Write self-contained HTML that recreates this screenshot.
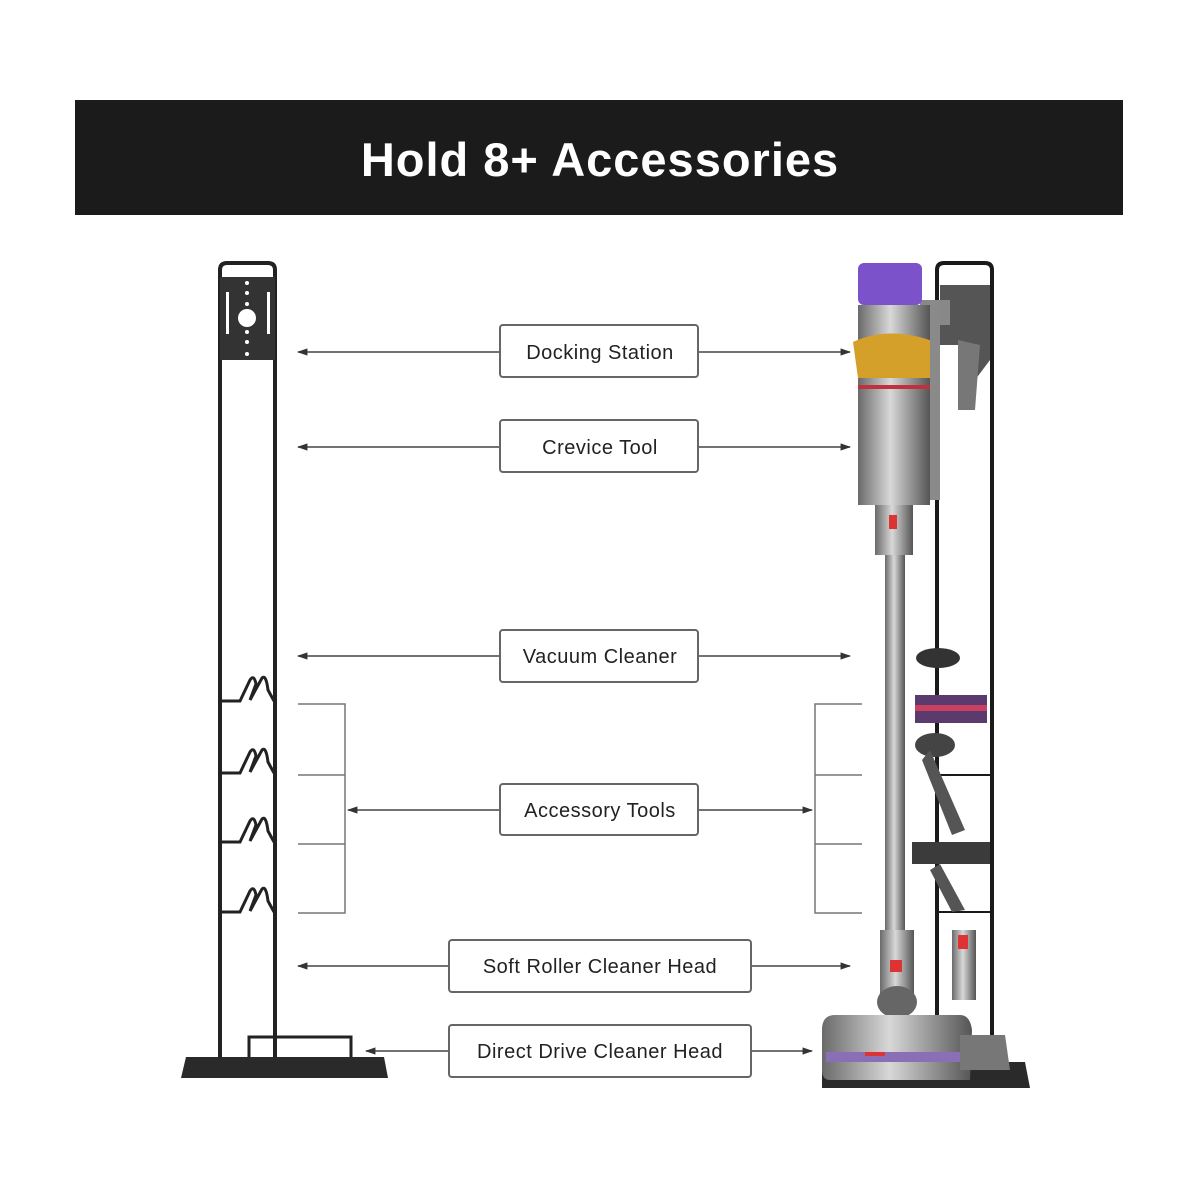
<!DOCTYPE html>
<html><head><meta charset="utf-8"><style>
html,body{margin:0;padding:0;background:#fff;width:1200px;height:1200px;overflow:hidden}
svg{display:block}
text{font-family:"Liberation Sans",sans-serif}
</style></head><body>
<svg width="1200" height="1200" viewBox="0 0 1200 1200" xmlns="http://www.w3.org/2000/svg">
<defs>
<marker id="ar" viewBox="0 0 10 10" refX="9" refY="5" markerWidth="7" markerHeight="7" orient="auto-start-reverse"><path d="M0,1.5 L10,5 L0,8.5z" fill="#333"/></marker>
<linearGradient id="met" x1="0" x2="1"><stop offset="0" stop-color="#6a6a6a"/><stop offset="0.45" stop-color="#d8d8d8"/><stop offset="1" stop-color="#555"/></linearGradient>
</defs>
<rect x="75" y="100" width="1048" height="115" fill="#1b1b1b"/>
<text x="600" y="176" font-size="47" font-weight="bold" fill="#fff" text-anchor="middle" letter-spacing="1">Hold 8+ Accessories</text>

<!-- left stand -->
<g stroke="#222" fill="none">
<path d="M220,1058 V270 Q220,263 227,263 H268 Q275,263 275,270 V1058" stroke-width="4"/>
<rect x="220" y="277" width="55" height="83" fill="#333" stroke="none"/>
<g fill="#fff" stroke="none">
<circle cx="247" cy="318" r="9"/>
<rect x="226" y="292" width="3" height="42"/><rect x="267" y="292" width="3" height="42"/>
<circle cx="247" cy="283" r="2"/><circle cx="247" cy="293" r="2"/><circle cx="247" cy="304" r="2"/>
<circle cx="247" cy="332" r="2"/><circle cx="247" cy="342" r="2"/><circle cx="247" cy="354" r="2"/>
</g>
<g stroke-width="3">
<path d="M222,701 H240 L250,680 Q254,674 256,684 L250,700 L262,678 Q266,674 268,690 L274,701"/>
<path d="M222,773 H240 L250,752 Q254,746 256,756 L250,772 L262,750 Q266,746 268,762 L274,773"/>
<path d="M222,842 H240 L250,821 Q254,815 256,825 L250,841 L262,819 Q266,815 268,831 L274,842"/>
<path d="M222,912 H240 L250,891 Q254,885 256,895 L250,911 L262,889 Q266,885 268,901 L274,912"/>
<path d="M249,1058 V1037 H351 V1058" stroke-width="3"/>
</g>
</g>
<path d="M186,1057 H384 L388,1078 H181 Z" fill="#2a2a2a"/>

<!-- right stand -->
<g stroke="#1a1a1a" fill="none" stroke-width="4">
<path d="M937,1062 V270 Q937,263 944,263 H985 Q992,263 992,270 V1062"/>
<path d="M937,775 H990 M937,845 H990 M937,912 H990" stroke-width="2"/>
</g>
<path d="M822,1062 H1025 L1030,1088 H822 Z" fill="#2a2a2a"/>
<path d="M940,285 H990 V360 L975,380 L960,345 H940 Z" fill="#555"/>
<path d="M958,340 L980,345 L975,410 L958,410 Z" fill="#777"/>
<rect x="920" y="300" width="30" height="25" fill="#888"/>
<rect x="885" y="500" width="20" height="430" fill="url(#met)"/>
<rect x="858" y="263" width="64" height="42" rx="6" fill="#7b52c9"/>
<rect x="858" y="305" width="72" height="200" fill="url(#met)"/>
<path d="M853,342 Q890,325 935,342 L930,378 H858 Z" fill="#d4a02a"/>
<rect x="858" y="385" width="72" height="4" fill="#c03040"/>
<rect x="875" y="505" width="38" height="50" fill="url(#met)"/>
<rect x="889" y="515" width="8" height="14" fill="#d33"/>
<rect x="930" y="300" width="10" height="200" fill="#8a8a8a"/>
<ellipse cx="938" cy="658" rx="22" ry="10" fill="#333"/>
<rect x="915" y="695" width="72" height="28" fill="#5b3a6e"/>
<rect x="915" y="705" width="72" height="6" fill="#c94060"/>
<ellipse cx="935" cy="745" rx="20" ry="12" fill="#444"/>
<path d="M930,750 L965,830 L952,835 L922,760 Z" fill="#555"/>
<rect x="912" y="842" width="78" height="22" fill="#3b3b3b"/>
<path d="M940,864 L965,910 L952,912 L930,870 Z" fill="#555"/>
<rect x="952" y="930" width="24" height="70" fill="url(#met)"/>
<rect x="958" y="935" width="10" height="14" fill="#d33"/>
<rect x="880" y="930" width="34" height="70" fill="url(#met)"/>
<rect x="890" y="960" width="12" height="12" fill="#d33"/>
<ellipse cx="897" cy="1002" rx="20" ry="16" fill="#666"/>
<path d="M835,1015 H960 Q970,1015 972,1030 L970,1080 H830 Q822,1080 822,1070 V1030 Q822,1015 835,1015 Z" fill="url(#met)"/>
<rect x="826" y="1052" width="140" height="10" fill="#8a6fb4"/>
<rect x="865" y="1052" width="20" height="4" fill="#d33"/>
<path d="M960,1035 H1005 L1010,1070 H960 Z" fill="#777"/>

<g stroke="#444" stroke-width="1.5" fill="none">
<line x1="500" y1="352" x2="298" y2="352" marker-end="url(#ar)"/>
<line x1="698" y1="352" x2="850" y2="352" marker-end="url(#ar)"/>
<line x1="500" y1="447" x2="298" y2="447" marker-end="url(#ar)"/>
<line x1="698" y1="447" x2="850" y2="447" marker-end="url(#ar)"/>
<line x1="500" y1="656" x2="298" y2="656" marker-end="url(#ar)"/>
<line x1="698" y1="656" x2="850" y2="656" marker-end="url(#ar)"/>
<line x1="500" y1="810" x2="348" y2="810" marker-end="url(#ar)"/>
<line x1="698" y1="810" x2="812" y2="810" marker-end="url(#ar)"/>
<line x1="449" y1="966" x2="298" y2="966" marker-end="url(#ar)"/>
<line x1="751" y1="966" x2="850" y2="966" marker-end="url(#ar)"/>
<line x1="449" y1="1051" x2="366" y2="1051" marker-end="url(#ar)"/>
<line x1="751" y1="1051" x2="812" y2="1051" marker-end="url(#ar)"/>
<path d="M298,704 H345 V913 H298 M298,775 H345 M298,844 H345" stroke="#777"/>
<path d="M862,704 H815 V913 H862 M815,775 H862 M815,844 H862" stroke="#777"/>
</g>
<g fill="#fff" stroke="#666" stroke-width="2">
<rect x="500" y="325" width="198" height="52" rx="3"/>
<rect x="500" y="420" width="198" height="52" rx="3"/>
<rect x="500" y="630" width="198" height="52" rx="3"/>
<rect x="500" y="784" width="198" height="51" rx="3"/>
<rect x="449" y="940" width="302" height="52" rx="3"/>
<rect x="449" y="1025" width="302" height="52" rx="3"/>
</g>
<g font-size="20" fill="#222" text-anchor="middle" letter-spacing="0.5">
<text x="600" y="359">Docking Station</text>
<text x="600" y="454">Crevice Tool</text>
<text x="600" y="663">Vacuum Cleaner</text>
<text x="600" y="817">Accessory Tools</text>
<text x="600" y="973">Soft Roller Cleaner Head</text>
<text x="600" y="1058">Direct Drive Cleaner Head</text>
</g>
</svg>
</body></html>
